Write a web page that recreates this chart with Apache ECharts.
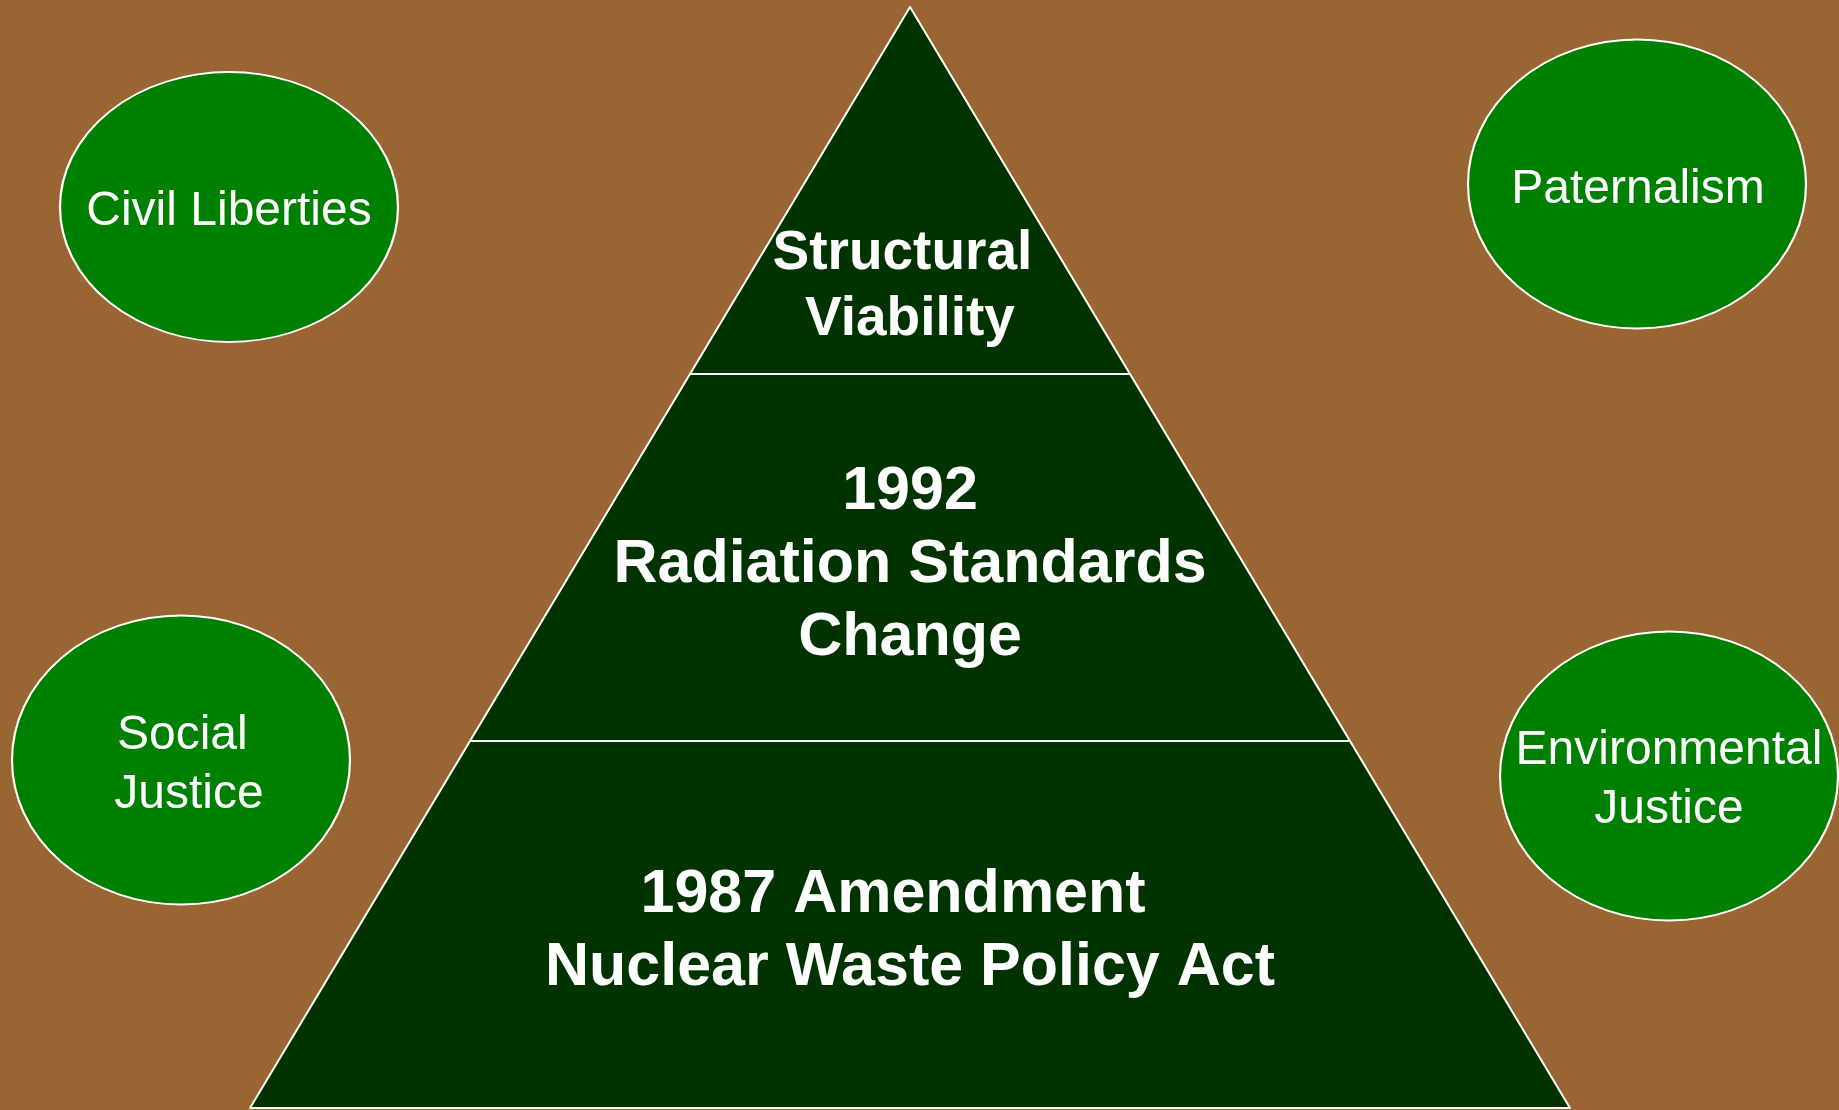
<!DOCTYPE html>
<html>
<head>
<meta charset="utf-8">
<style>
  html, body { margin: 0; padding: 0; background: #996633; }
  #chart { width: 1839px; height: 1110px; }
</style>
<script src="https://cdn.jsdelivr.net/npm/echarts@6/dist/echarts.min.js"></script>
</head>
<body>
<div id="chart"></div>
<script>
// ---- data ----
const tierNames = ['Structural Viability', '1992 Radiation Standards Change', '1987 Amendment Nuclear Waste Policy Act'];
const tierLabels = ['Structural \nViability', '1992\nRadiation Standards\nChange', '1987 Amendment  \nNuclear Waste Policy Act'];
const tierRank = [1, 2, 3];
const bubbleNames = ['Civil Liberties', 'Paternalism', 'Social Justice', 'Environmental Justice'];
const bubbleLabels = ['Civil Liberties', 'Paternalism', 'Social \nJustice', 'Environmental\nJustice'];

// ---- layout (positions / sizes, kept apart from the data) ----
const bubbleLayout = [
  { x: 229, y: 207, w: 338, h: 270, off: [0, 5] },
  { x: 1637, y: 184, w: 338, h: 289, off: [1, 6] },
  { x: 181, y: 760, w: 338, h: 289, off: [8, 5] },
  { x: 1669, y: 776, w: 338, h: 289, off: [0, 4] }
];
// vertical push-down of each tier's text block (spacer height = 2 x shift)
const tierSpacer = [192, 16, 14];
const tierFont = [55, 61, 61];
const tierLine = [66, 73, 73];

const FONT = '"Liberation Sans", Arial, sans-serif';

const chart = echarts.init(document.getElementById('chart'), null, { renderer: 'canvas' });

const option = {
  backgroundColor: '#996633',
  animation: false,
  grid: { left: 0, right: 0, top: 0, bottom: 0 },
  xAxis: { type: 'value', min: 0, max: 1839, show: false },
  yAxis: { type: 'value', min: 0, max: 1110, inverse: true, show: false },
  series: [
    {
      type: 'funnel',
      sort: 'ascending',
      left: 250,
      top: 7,
      width: 1320,
      height: 1101,
      min: 0,
      max: 3,
      minSize: '0%',
      maxSize: '100%',
      gap: 0,
      funnelAlign: 'center',
      itemStyle: { color: '#003300', borderColor: '#ffffff', borderWidth: 2 },
      emphasis: { disabled: true },
      labelLine: { show: false },
      label: {
        show: true,
        position: 'inside',
        color: '#ffffff',
        fontFamily: FONT,
        fontWeight: 'bold',
        align: 'center'
      },
      data: tierRank.map((v, i) => ({
        name: tierNames[i],
        value: v,
        label: {
          formatter: '{s| }\n' + tierLabels[i],
          fontSize: tierFont[i],
          lineHeight: tierLine[i],
          rich: { s: { fontSize: 4, lineHeight: tierSpacer[i] } }
        }
      }))
    },
    {
      type: 'scatter',
      symbol: 'circle',
      itemStyle: { color: '#008000', borderColor: '#ffffff', borderWidth: 2, opacity: 1 },
      emphasis: { disabled: true },
      label: {
        show: true,
        position: 'inside',
        color: '#ffffff',
        fontFamily: FONT,
        fontSize: 48,
        lineHeight: 59,
        align: 'center'
      },
      data: bubbleNames.map((n, i) => ({
        name: n,
        value: [bubbleLayout[i].x, bubbleLayout[i].y],
        symbolSize: [bubbleLayout[i].w, bubbleLayout[i].h],
        label: { formatter: bubbleLabels[i], offset: bubbleLayout[i].off }
      }))
    }
  ]
};
chart.setOption(option);
</script>
</body>
</html>
